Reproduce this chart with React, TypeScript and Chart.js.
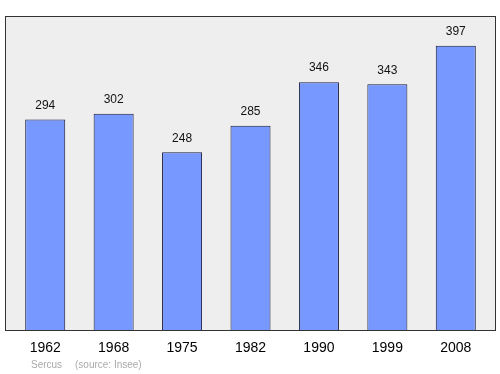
import React, { useEffect, useRef } from "react";
import { Chart, registerables } from "chart.js";

Chart.register(...registerables);

const categories = ["1962", "1968", "1975", "1982", "1990", "1999", "2008"];
const population = [294, 302, 248, 285, 346, 343, 397];
const yMax = 437;
const footerName = "Sercus";
const footerSource = "(source: Insee)";

const FONT = "'Liberation Sans', Arial, sans-serif";

const plotBoxPlugin = {
  id: "plotBox",
  beforeDatasetsDraw(chart: any) {
    const { ctx, chartArea } = chart;
    ctx.save();
    const left = 5.5;
    const right = 495.5;
    const top = chartArea.top - 0.5;
    const bottom = chartArea.bottom + 0.5;
    ctx.fillStyle = "#eeeeee";
    ctx.fillRect(left, top, right - left, bottom - top);
    ctx.restore();
  },
  afterDatasetsDraw(chart: any) {
    const { ctx, chartArea } = chart;
    ctx.save();
    const left = 5.5;
    const right = 495.5;
    const top = chartArea.top - 0.5;
    const bottom = chartArea.bottom + 0.5;
    ctx.strokeStyle = "#333333";
    ctx.lineWidth = 1;
    ctx.strokeRect(left, top, right - left, bottom - top);

    // value labels
    const meta = chart.getDatasetMeta(0);
    ctx.fillStyle = "#111111";
    ctx.font = `12px ${FONT}`;
    ctx.textAlign = "center";
    ctx.textBaseline = "middle";
    meta.data.forEach((bar: any, i: number) => {
      ctx.fillText(String(chart.data.datasets[0].data[i]), bar.x, bar.y - 14);
    });

    // footer
    ctx.fillStyle = "#aaaaaa";
    ctx.font = `10px ${FONT}`;
    ctx.textAlign = "left";
    ctx.fillText(footerName, 31, 365);
    ctx.fillText(footerSource, 75, 365);
    ctx.restore();
  },
};

export default function App() {
  const ref = useRef<HTMLCanvasElement | null>(null);
  useEffect(() => {
    if (!ref.current) return;
    const chart = new Chart(ref.current, {
      type: "bar",
      data: {
        labels: categories,
        datasets: [
          {
            data: population,
            backgroundColor: "#7799ff",
            borderColor: "#1a1a3a",
            borderWidth: 1,
            categoryPercentage: 1,
            barPercentage: 0.585,
          },
        ],
      },
      options: {
        animation: false,
        responsive: false,
        layout: { padding: { left: 11, right: 10, top: 17, bottom: 0 } },
        plugins: {
          legend: { display: false },
          tooltip: { enabled: false },
        },
        scales: {
          x: {
            grid: { display: false, drawTicks: false },
            border: { display: false },
            ticks: {
              color: "#000000",
              font: { family: FONT, size: 14 },
              padding: 10,
              maxRotation: 0,
            },
            afterFit(scale: any) {
              scale.height = 44;
            },
          },
          y: {
            display: false,
            min: 0,
            max: yMax,
          },
        },
      },
      plugins: [plotBoxPlugin],
    });
    return () => chart.destroy();
  }, []);
  return (
    <div style={{ position: "fixed", left: 0, top: 0, width: 500, height: 374, background: "#ffffff" }}>
      <canvas ref={ref} width={500} height={374} />
    </div>
  );
}
